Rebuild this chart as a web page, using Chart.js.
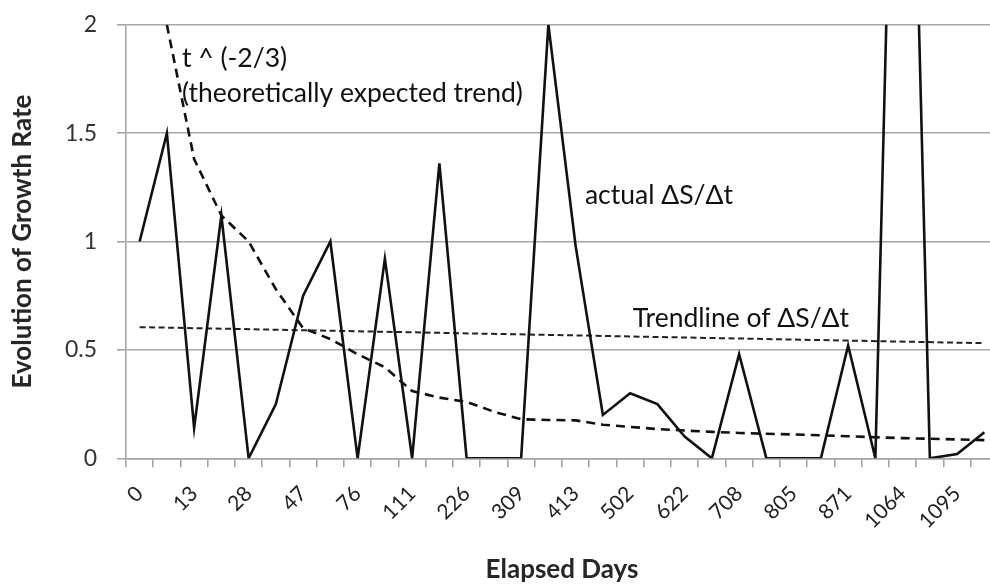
<!DOCTYPE html>
<html><head><meta charset="utf-8">
<script src="https://cdn.jsdelivr.net/npm/chart.js@4.4.1/dist/chart.umd.min.js"></script>
<style>
html,body{margin:0;padding:0;background:#fff;overflow:hidden;width:990px;height:587px}
#wrap{position:relative;width:1000px;height:587px}
</style></head><body>
<div id="wrap"><canvas id="c" width="1000" height="587"></canvas></div>
<script>
// Day labels of the even-numbered observations (odd ones are unlabeled on the axis)
const dayLabels = ['0','13','28','47','76','111','226','309','413','502','622','708','805','871','1064','1095'];
// Measured growth rate per observation
const actualRate = [1.0,1.5,0.14,1.12,0,0.25,0.75,1.0,0,0.92,0,1.36,0,0,0,2.0,0.98,0.2,0.3,0.25,0.1,0,0.48,0,0,0,0.52,0,5.0,0,0.02,0.12];
// Theoretical t^(-2/3) curve
const expectedTrend = [null,2.0,1.38,1.12,1.0,0.78,0.6,0.55,0.48,0.42,0.31,0.28,0.26,0.215,0.18,0.177,0.175,0.155,0.145,0.135,0.128,0.122,0.117,0.113,0.11,0.106,0.102,0.097,0.093,0.09,0.087,0.084];
// Linear trendline of the measured rate: first and last value
const trendlineEnds = [0.605, 0.531];
const yTicks = [0, 0.5, 1, 1.5, 2];

const categories = [];
dayLabels.forEach(d => categories.push(d, ''));
const trendData = categories.map((_, i) => i === 0 ? trendlineEnds[0] : (i === categories.length - 1 ? trendlineEnds[1] : null));

const FONT = "Lato, 'Open Sans', sans-serif";

// Text notes placed in data coordinates (category index, value)
const notes = [
  {text: 't ^ (-2/3)', x: 1.555, y: 1.807},
  {text: '(theoretically expected trend)', x: 1.555, y: 1.645},
  {text: 'actual \u0394S/\u0394t', x: 16.34, y: 1.173},
  {text: 'Trendline of \u0394S/\u0394t', x: 18.1, y: 0.607}
];

const notePlugin = {
  id: 'notes',
  afterDatasetsDraw(chart) {
    const {ctx, scales: {x, y}} = chart;
    ctx.save();
    ctx.fillStyle = '#111';
    ctx.font = "26.5px " + FONT;
    ctx.textAlign = 'left';
    ctx.textBaseline = 'alphabetic';
    notes.forEach(n => ctx.fillText(n.text, x.getPixelForValue(n.x), y.getPixelForValue(n.y)));
    ctx.restore();
  }
};

new Chart(document.getElementById('c'), {
  type: 'line',
  data: {
    labels: categories,
    datasets: [
      {label: 'actual \u0394S/\u0394t', data: actualRate, borderColor: '#111', borderWidth: 2.6, pointRadius: 0, tension: 0},
      {label: 't ^ (-2/3)', data: expectedTrend, borderColor: '#111', borderWidth: 2.6, borderDash: [9, 6], pointRadius: 0, tension: 0},
      {label: 'Trendline of \u0394S/\u0394t', data: trendData, borderColor: '#222', borderWidth: 2, borderDash: [6, 3.5], pointRadius: 0, spanGaps: true, tension: 0}
    ]
  },
  options: {
    responsive: false,
    animation: false,
    layout: {padding: {top: 24.7, right: 2, left: 0, bottom: 0}},
    plugins: {legend: {display: false}, tooltip: {enabled: false}},
    scales: {
      x: {
        type: 'category',
        offset: true,
        grid: {display: true, drawOnChartArea: false, drawTicks: true, offset: true, tickLength: 9, color: '#a6a6a6', lineWidth: 1.6},
        border: {display: true, color: '#a6a6a6', width: 1.6},
        ticks: {autoSkip: false, minRotation: 45, maxRotation: 45, padding: 14, color: '#222', font: {family: FONT, size: 21}},
        title: {display: true, text: 'Elapsed Days', color: '#262626', font: {family: FONT, size: 26, weight: 'bold'}, padding: {top: 0, bottom: 1.7}},
        afterFit(scale) {
          scale.height = 128.7;
          scale.paddingLeft = 0;
          scale.paddingRight = 0;
        }
      },
      y: {
        min: 0, max: 2,
        afterBuildTicks(scale) { scale.ticks = yTicks.map(v => ({value: v})); },
        grid: {color: '#a6a6a6', lineWidth: 1.6, tickLength: 9},
        border: {display: true, color: '#a6a6a6', width: 1.6},
        ticks: {padding: 20, color: '#333', font: {family: FONT, size: 23}, callback: v => String(v)},
        title: {display: true, text: 'Evolution of Growth Rate', color: '#262626', font: {family: FONT, size: 26, weight: 'bold'}, padding: {top: 7, bottom: 0}},
        afterFit(scale) {
          scale.width = 126;
          scale.paddingTop = 0;
          scale.paddingBottom = 0;
        }
      }
    }
  },
  plugins: [notePlugin]
});
</script>
</body></html>
